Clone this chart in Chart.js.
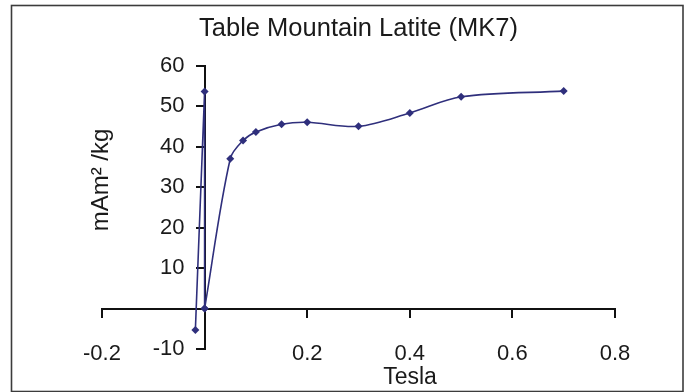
<!DOCTYPE html>
<html>
<head>
<meta charset="utf-8">
<script src="https://cdn.jsdelivr.net/npm/chart.js@4/dist/chart.umd.min.js"></script>
<style>
  html, body { margin: 0; padding: 0; background: #fff; }
  #wrap { width: 689px; height: 392px; position: relative; }
</style>
</head>
<body>
<div id="wrap"><canvas id="chart"></canvas></div>
<script>
// field (T) and magnetisation (mAm2/kg), in the order they are joined
const tesla = [-0.018, 0, 0, 0.05, 0.075, 0.1, 0.15, 0.2, 0.3, 0.4, 0.5, 0.7];
const magnetisation = [-5.3, 53.6, 0, 37, 41.5, 43.6, 45.5, 46, 45, 48.3, 52.3, 53.7];
const xTicks = [-0.2, 0.2, 0.4, 0.6, 0.8];
const yTicks = [60, 50, 40, 30, 20, 10, -10];

const lineColor = "#2f2f7c";
const font = "'Liberation Sans', Arial, sans-serif";

const points = tesla.map((t, i) => ({ x: t, y: magnetisation[i] }));
// the jump at zero is drawn straight, the rest is smoothed
const jump = points.slice(0, 3);
const curve = points.slice(2);

function serie(data, tension) {
  return {
    data: data,
    showLine: true,
    borderColor: lineColor,
    backgroundColor: lineColor,
    borderWidth: 1.6,
    pointStyle: "rectRot",
    pointRadius: 4,
    pointBorderWidth: 0,
    tension: tension,
  };
}

const extras = {
  id: "extras",
  beforeDraw(chart) {
    const c = chart.ctx;
    c.save();
    c.fillStyle = "#fff";
    c.fillRect(0, 0, chart.width, chart.height);
    c.strokeStyle = "#3c3c3c";
    c.lineWidth = 1.6;
    c.strokeRect(11.5, 5.5, 671.5, 386);
    c.restore();
  },
  afterDraw(chart) {
    const c = chart.ctx;
    c.save();
    c.fillStyle = "#1a1a1a";
    c.font = "23px " + font;
    c.textAlign = "center";
    c.textBaseline = "middle";
    c.fillText("Tesla", 410, 378);
    c.font = "24px " + font;
    c.translate(101, 180);
    c.rotate(-Math.PI / 2);
    c.fillText("mAm\u00B2 /kg", 0, 0);
    c.restore();
  },
};

const tickFont = { family: font, size: 22 };

new Chart(document.getElementById("chart"), {
  type: "scatter",
  data: { datasets: [serie(jump, 0), serie(curve, 0.33)] },
  options: {
    responsive: true,
    maintainAspectRatio: false,
    animation: false,
    layout: { padding: { left: 102, right: 74, top: 0, bottom: 43 } },
    plugins: {
      legend: { display: false },
      tooltip: { enabled: false },
      title: {
        display: true,
        text: "Table Mountain Latite (MK7)",
        color: "#1a1a1a",
        font: { family: font, size: 25.5, weight: "normal" },
        padding: { top: 14, bottom: 21 },
      },
    },
    scales: {
      x: {
        type: "linear",
        position: { y: 0 },
        min: -0.2,
        max: 0.8,
        border: { color: "#111", width: 2 },
        grid: { drawOnChartArea: false, color: "#111", lineWidth: 2, tickLength: 8 },
        ticks: { display: false },
        afterBuildTicks(scale) {
          scale.ticks = xTicks.map((v) => ({ value: v }));
        },
      },
      // tick labels of the x axis sit low, beside the -10 mark
      xl: {
        type: "linear",
        axis: "x",
        position: { y: -10 },
        min: -0.2,
        max: 0.8,
        border: { display: false },
        grid: { display: false },
        ticks: {
          padding: -16,
          color: "#1a1a1a",
          autoSkip: false,
          maxRotation: 0,
          font: tickFont,
          callback: (v) => v.toFixed(1),
        },
        afterBuildTicks(scale) {
          scale.ticks = xTicks.map((v) => ({ value: v }));
        },
      },
      y: {
        type: "linear",
        position: { x: 0 },
        min: -10,
        max: 60,
        border: { color: "#111", width: 2 },
        grid: { drawOnChartArea: false, color: "#111", lineWidth: 2, tickLength: 8 },
        ticks: { display: false },
        afterBuildTicks(scale) {
          scale.ticks = yTicks.map((v) => ({ value: v }));
        },
      },
      // y tick labels, set off to the left of the tick marks
      yl: {
        type: "linear",
        axis: "y",
        position: { x: -0.039 },
        min: -10,
        max: 60,
        border: { display: false },
        grid: { display: false },
        ticks: { color: "#1a1a1a", font: tickFont },
        afterBuildTicks(scale) {
          scale.ticks = yTicks.map((v) => ({ value: v }));
        },
      },
    },
  },
  plugins: [extras],
});
</script>
</body>
</html>
